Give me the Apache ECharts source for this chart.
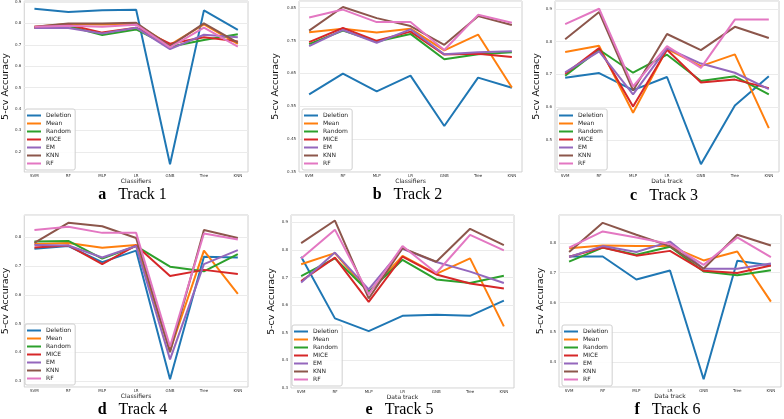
<!DOCTYPE html>
<html><head><meta charset="utf-8">
<script src="https://cdn.jsdelivr.net/npm/echarts@6/dist/echarts.min.js"></script>
<style>html,body{margin:0;padding:0;background:#fff}#c{width:784px;height:419px}</style>
</head><body><div id="c"></div>
<script>
// ---------- data ----------
const categories = ['SVM', 'RF', 'MLP', 'LR', 'GNB', 'Tree', 'KNN'];
const methods = ['Deletion', 'Mean', 'Random', 'MICE', 'EM', 'KNN', 'RF'];
const colors = ['#1f77b4', '#ff7f0e', '#2ca02c', '#d62728', '#9467bd', '#8c564b', '#e377c2'];

// rows follow `methods` order, columns follow `categories` order
const track1 = [
  [0.868, 0.853, 0.861, 0.864, 0.142, 0.861, 0.770],
  [0.784, 0.797, 0.795, 0.797, 0.700, 0.795, 0.704],
  [0.780, 0.788, 0.746, 0.772, 0.691, 0.722, 0.749],
  [0.780, 0.794, 0.757, 0.780, 0.705, 0.735, 0.716],
  [0.778, 0.778, 0.753, 0.780, 0.680, 0.747, 0.735],
  [0.784, 0.800, 0.800, 0.803, 0.694, 0.800, 0.710],
  [0.784, 0.789, 0.784, 0.794, 0.688, 0.780, 0.691]
];
const track2 = [
  [0.586, 0.649, 0.595, 0.643, 0.490, 0.637, 0.606],
  [0.775, 0.786, 0.774, 0.786, 0.720, 0.768, 0.607],
  [0.739, 0.780, 0.747, 0.770, 0.693, 0.708, 0.714],
  [0.745, 0.788, 0.749, 0.777, 0.707, 0.710, 0.700],
  [0.733, 0.782, 0.743, 0.784, 0.708, 0.714, 0.717],
  [0.780, 0.852, 0.818, 0.794, 0.737, 0.824, 0.797],
  [0.820, 0.844, 0.806, 0.806, 0.721, 0.828, 0.804]
];
const track3 = [
  [0.690, 0.704, 0.652, 0.692, 0.426, 0.605, 0.694],
  [0.768, 0.787, 0.583, 0.778, 0.725, 0.761, 0.536],
  [0.696, 0.775, 0.705, 0.760, 0.680, 0.694, 0.639],
  [0.702, 0.780, 0.602, 0.775, 0.675, 0.684, 0.658],
  [0.706, 0.770, 0.639, 0.780, 0.733, 0.705, 0.655],
  [0.807, 0.890, 0.651, 0.823, 0.774, 0.845, 0.811],
  [0.853, 0.900, 0.663, 0.786, 0.720, 0.867, 0.867]
];
const track4 = [
  [0.761, 0.770, 0.714, 0.754, 0.306, 0.733, 0.730],
  [0.777, 0.781, 0.764, 0.774, 0.405, 0.754, 0.603],
  [0.786, 0.788, 0.726, 0.770, 0.698, 0.682, 0.742],
  [0.765, 0.772, 0.707, 0.772, 0.666, 0.687, 0.673],
  [0.774, 0.772, 0.730, 0.770, 0.375, 0.707, 0.756],
  [0.781, 0.851, 0.839, 0.798, 0.400, 0.826, 0.798],
  [0.826, 0.837, 0.816, 0.816, 0.420, 0.814, 0.793]
];
const track5 = [
  [0.775, 0.552, 0.506, 0.561, 0.565, 0.561, 0.616],
  [0.748, 0.788, 0.646, 0.778, 0.713, 0.769, 0.523],
  [0.705, 0.769, 0.648, 0.764, 0.693, 0.680, 0.706],
  [0.687, 0.772, 0.612, 0.775, 0.711, 0.678, 0.660],
  [0.682, 0.790, 0.657, 0.804, 0.756, 0.721, 0.680],
  [0.824, 0.906, 0.624, 0.806, 0.757, 0.876, 0.817],
  [0.769, 0.873, 0.639, 0.814, 0.716, 0.854, 0.798]
];
const track6 = [
  [0.754, 0.754, 0.677, 0.707, 0.343, 0.740, 0.724],
  [0.782, 0.791, 0.789, 0.789, 0.741, 0.771, 0.603],
  [0.737, 0.784, 0.760, 0.787, 0.704, 0.691, 0.708],
  [0.753, 0.784, 0.757, 0.773, 0.706, 0.699, 0.724],
  [0.753, 0.789, 0.769, 0.804, 0.713, 0.713, 0.731],
  [0.769, 0.867, 0.827, 0.789, 0.713, 0.827, 0.791],
  [0.784, 0.838, 0.818, 0.796, 0.726, 0.818, 0.752]
];

const yTicks1 = ['0.2', '0.3', '0.4', '0.5', '0.6', '0.7', '0.8', '0.9'];
const yTicks2 = ['0.35', '0.45', '0.55', '0.65', '0.75', '0.85'];
const yTicks3 = ['0.5', '0.6', '0.7', '0.8', '0.9'];
const yTicks4 = ['0.3', '0.4', '0.5', '0.6', '0.7', '0.8'];
const yTicks5 = ['0.3', '0.4', '0.5', '0.6', '0.7', '0.8', '0.9'];
const yTicks6 = ['0.4', '0.5', '0.6', '0.7', '0.8'];

const letters = ['a', 'b', 'c', 'd', 'e', 'f'];
const titles = ['Track 1', 'Track 2', 'Track 3', 'Track 4', 'Track 5', 'Track 6'];
const xNames = ['Classifiers', 'Classifiers', 'Data track', 'Classifiers', 'Data track', 'Data track'];
const yName = '5-cv Accuracy';
const fixedBottoms = [null, 0.35, null, null, 0.3, null];

// ---------- layout ----------
const tracks = [track1, track2, track3, track4, track5, track6];
const tickLists = [yTicks1, yTicks2, yTicks3, yTicks4, yTicks5, yTicks6];
const layout = [
  {left: 23,  top: 1,   width: 225, height: 171, yGap: 12, lgLeft: 25,  lgTop: 109, titleY: 195},
  {left: 299, top: 1,   width: 223, height: 171, yGap: 18, lgLeft: 302, lgTop: 109, titleY: 195},
  {left: 555, top: 1,   width: 224, height: 171, yGap: 5,  lgLeft: 557, lgTop: 109, titleY: 196},
  {left: 23,  top: 215, width: 225, height: 172, yGap: 13, lgLeft: 25,  lgTop: 324, titleY: 410},
  {left: 291, top: 215, width: 223, height: 173, yGap: 14, lgLeft: 292, lgTop: 325, titleY: 410},
  {left: 559, top: 215, width: 223, height: 172, yGap: 13, lgLeft: 562, lgTop: 325, titleY: 410}
];

const FONT = 'DejaVu Sans';
const grid = [], xAxis = [], yAxis = [], series = [], legend = [], graphic = [];

tracks.forEach((track, p) => {
  const L = layout[p];
  const all = track.flat();
  const lo = Math.min(...all), hi = Math.max(...all);
  const span = hi - lo;
  const yMin = fixedBottoms[p] != null ? fixedBottoms[p] : lo - 0.05 * span;
  const yMax = hi + 0.05 * span;
  const ticks = tickLists[p];

  grid.push({left: L.left, top: L.top, width: L.width, height: L.height,
    show: true, borderColor: '#d0d0d0', borderWidth: 1, backgroundColor: '#fff'});

  xAxis.push({
    type: 'value', gridIndex: p, min: -0.3, max: 6.3, splitNumber: 6,
    name: xNames[p], nameLocation: 'middle', nameGap: 5,
    nameTextStyle: {fontSize: 6, fontFamily: FONT, color: '#222'},
    axisLine: {show: false}, axisTick: {show: false}, splitLine: {show: false},
    axisLabel: {fontSize: 4, fontFamily: FONT, color: '#333', margin: 2,
      formatter: v => (Math.abs(v - Math.round(v)) < 1e-6 && Math.round(v) >= 0 && Math.round(v) < categories.length) ? categories[Math.round(v)] : ''}
  });

  const yCfg = {
    type: 'value', gridIndex: p, min: yMin, max: yMax,
    name: yName, nameLocation: 'middle', nameGap: L.yGap,
    nameTextStyle: {fontSize: 9.5, fontFamily: FONT, color: '#111'},
    axisLine: {show: false}, axisTick: {show: false},
    splitLine: {show: true, lineStyle: {color: '#ebebeb', width: 1}},
    axisLabel: {fontSize: 4, fontFamily: FONT, color: '#333', margin: 3,
      showMinLabel: true, showMaxLabel: true,
      formatter: v => { const t = ticks.find(s => Math.abs(parseFloat(s) - v) < 1e-6); return t || ''; }}
  };
  if (fixedBottoms[p] != null) { yCfg.interval = 0.1; }
  else { yCfg.splitNumber = Math.round((yMax - yMin) / 0.1); }
  yAxis.push(yCfg);

  methods.forEach((m, k) => {
    series.push({
      type: 'line', name: m, xAxisIndex: p, yAxisIndex: p,
      data: track[k].map((v, i) => [i, v]),
      symbol: 'none', silent: true,
      lineStyle: {width: 2, color: colors[k]}, itemStyle: {color: colors[k]}
    });
  });

  legend.push({
    data: methods, orient: 'vertical', left: L.lgLeft, top: L.lgTop,
    icon: 'rect', itemWidth: 14, itemHeight: 2, itemGap: 1,
    padding: [3, 4, 3, 2], selectedMode: false,
    backgroundColor: 'rgba(255,255,255,0.85)', borderColor: '#cfcfcf', borderWidth: 1, borderRadius: 2,
    textStyle: {fontSize: 6, lineHeight: 7, fontFamily: FONT, color: '#222'}
  });

  graphic.push({
    type: 'text', x: L.left + L.width / 2 - 3, y: L.titleY,
    style: {
      text: '{b|' + letters[p] + '}{t|' + titles[p] + '}',
      align: 'center', verticalAlign: 'middle',
      rich: {
        b: {fontFamily: 'Liberation Serif', fontWeight: 'bold', fontSize: 16, fill: '#000', padding: [0, 12, 0, 0]},
        t: {fontFamily: 'Liberation Serif', fontSize: 16, fill: '#000'}
      }
    }
  });
});

const chart = echarts.init(document.getElementById('c'), null, {renderer: 'canvas'});
chart.setOption({
  animation: false,
  color: colors,
  grid, xAxis, yAxis, series, legend, graphic
});
</script>
</body></html>
